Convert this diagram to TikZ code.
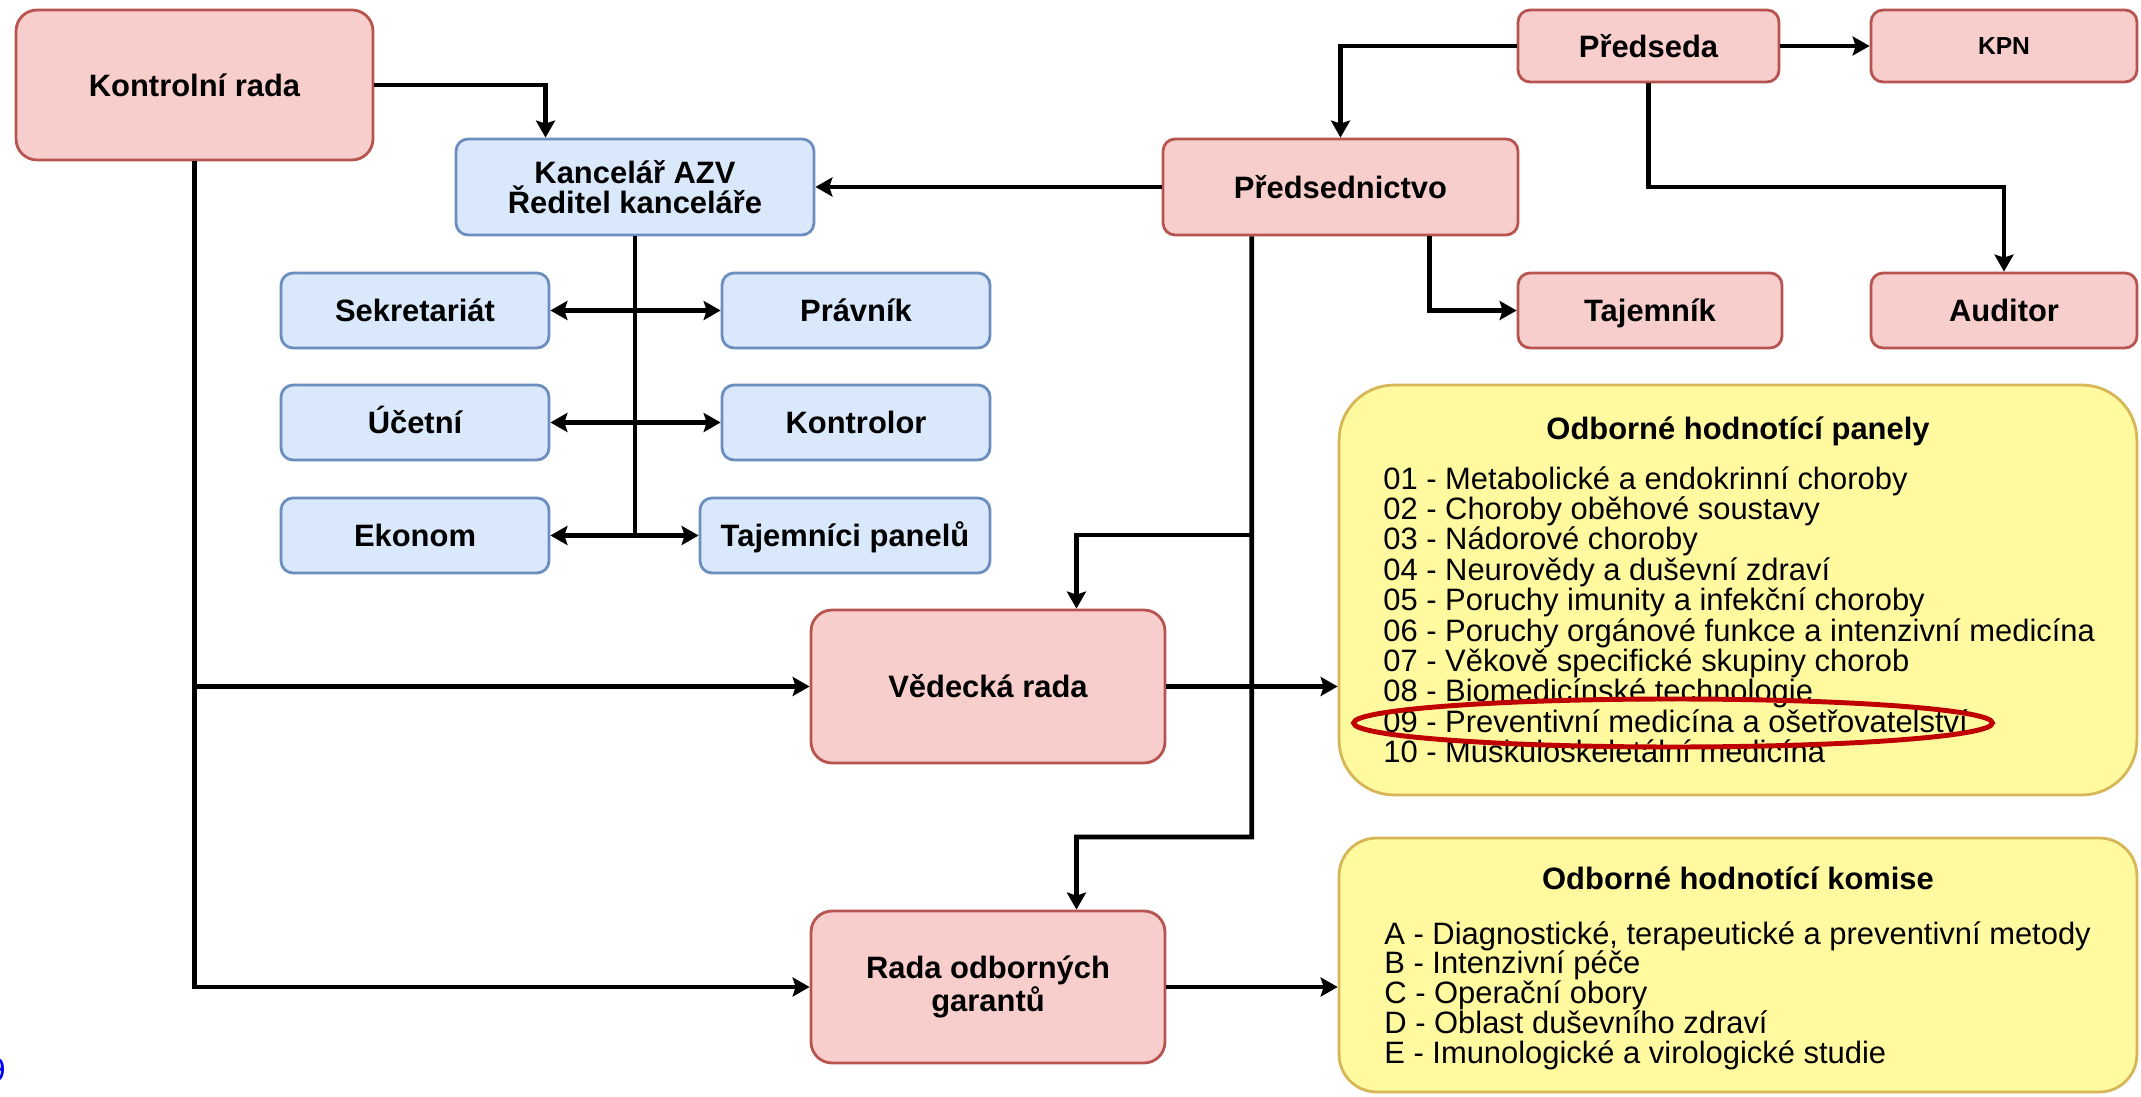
\documentclass[tikz,border=0pt]{standalone}
\usepackage{fontspec}
\setmainfont{Liberation Sans}
\usetikzlibrary{arrows.meta,shapes.geometric}

\definecolor{redfill}{HTML}{F8CECC}
\definecolor{redline}{HTML}{B85450}
\definecolor{bluefill}{HTML}{DAE8FC}
\definecolor{blueline}{HTML}{6C8EBF}
\definecolor{notefill}{HTML}{FFF9A0}
\definecolor{noteline}{HTML}{D6B656}
\definecolor{markred}{HTML}{C00000}

\tikzset{
  box/.style={draw, line width=1.6pt, rounded corners=0.24cm, align=center, inner sep=0pt,
    font=\fontsize{17.6}{17.1}\selectfont\bfseries},
  redbox/.style={box, draw=redline, fill=redfill},
  bluebox/.style={box, draw=blueline, fill=bluefill},
  oneline/.style={text height=12.6pt, text depth=0pt},
  bigbox/.style={rounded corners=0.42cm},
  notebox/.style={draw=noteline, fill=notefill, line width=1.6pt, minimum width=15.96cm, inner sep=0pt},
  item/.style={anchor=west, inner sep=0pt, text height=12.6pt, text depth=0pt,
    font=\fontsize{17.6}{17.1}\selectfont},
  heading/.style={item, anchor=center, font=\fontsize{17.6}{17.1}\selectfont\bfseries},
  conn/.style={line width=2.6pt, ->},
  twoway/.style={line width=2.6pt, <->},
}

\begin{document}
\begin{tikzpicture}[x=0.02cm, y=-0.02cm, >={Stealth[length=0.34cm,width=0.38cm,inset=0.06cm]}]
  \useasboundingbox (0,0) rectangle (2141,1097);
  \path
    (194.5,85) node[redbox, bigbox, oneline, minimum width=7.14cm, minimum height=3cm] (kontrolni) {Kontrolní rada}
    (635,187) node[bluebox, minimum width=7.16cm, minimum height=1.92cm] (kancelar) {Kancelář AZV\\Ředitel kanceláře}
    (1648.5,46) node[redbox, oneline, minimum width=5.22cm, minimum height=1.44cm] (predseda) {Předseda}
    (2004,46) node[redbox, minimum width=5.32cm, minimum height=1.44cm,
      font=\fontsize{14}{16}\selectfont\bfseries] (kpn) {KPN}
    (1340.5,187) node[redbox, oneline, minimum width=7.1cm, minimum height=1.92cm] (predsednictvo) {Předsednictvo}
    (1650,310.5) node[redbox, oneline, minimum width=5.28cm, minimum height=1.5cm] (tajemnik) {Tajemník}
    (2004,310.5) node[redbox, oneline, minimum width=5.32cm, minimum height=1.5cm] (auditor) {Auditor}
    (415,310.5) node[bluebox, oneline, minimum width=5.36cm, minimum height=1.5cm] (sekretariat) {Sekretariát}
    (856,310.5) node[bluebox, oneline, minimum width=5.36cm, minimum height=1.5cm] (pravnik) {Právník}
    (415,422.5) node[bluebox, oneline, minimum width=5.36cm, minimum height=1.5cm] (ucetni) {Účetní}
    (856,422.5) node[bluebox, oneline, minimum width=5.36cm, minimum height=1.5cm] (kontrolor) {Kontrolor}
    (415,535.5) node[bluebox, oneline, minimum width=5.36cm, minimum height=1.5cm] (ekonom) {Ekonom}
    (845,535.5) node[bluebox, oneline, minimum width=5.8cm, minimum height=1.5cm] (tajpanelu) {Tajemníci panelů}
    (988,686.5) node[redbox, bigbox, oneline, minimum width=7.08cm, minimum height=3.06cm] (vedecka) {Vědecká rada}
    (988,987) node[redbox, bigbox, minimum width=7.08cm, minimum height=3.04cm] (rada) {Rada odborných\\garantů}
    (1738,590) node[notebox, minimum height=8.2cm, rounded corners=1.1cm] (panely) {}
    (1738,965) node[notebox, minimum height=5.08cm, rounded corners=0.75cm] (komise) {};

  % panely
  \node[heading] (panelytitle) at (1738,428) {Odborné hodnotící panely};
  \node[item] (p01) at (1383,478) {01 - Metabolické a endokrinní choroby};
  \node[item] (p02) at (1383,508.4) {02 - Choroby oběhové soustavy};
  \node[item] (p03) at (1383,538.8) {03 - Nádorové choroby};
  \node[item] (p04) at (1383,569.2) {04 - Neurovědy a duševní zdraví};
  \node[item] (p05) at (1383,599.6) {05 - Poruchy imunity a infekční choroby};
  \node[item] (p06) at (1383,630) {06 - Poruchy orgánové funkce a intenzivní medicína};
  \node[item] (p07) at (1383,660.4) {07 - Věkově specifické skupiny chorob};
  \node[item] (p08) at (1383,690.8) {08 - Biomedicínské technologie};
  \node[item] (p09) at (1383,721.2) {09 - Preventivní medicína a ošetřovatelství};
  \node[item] (p10) at (1383,751.6) {10 - Muskuloskeletální medicína};
  \node[ellipse, draw=markred, line width=2.8pt, minimum width=12.78cm, minimum height=0.96cm,
    inner sep=0pt] (mark09) at (1673,723) {};

  % komise
  \node[heading] (komisetitle) at (1738,878) {Odborné hodnotící komise};
  \node[item] (kA) at (1384,933) {A - Diagnostické, terapeutické a preventivní metody};
  \node[item] (kB) at (1384,962.7) {B - Intenzivní péče};
  \node[item] (kC) at (1384,992.5) {C - Operační obory};
  \node[item] (kD) at (1384,1022.2) {D - Oblast duševního zdraví};
  \node[item] (kE) at (1384,1052) {E - Imunologické a virologické studie};

  \node[text=blue, anchor=east, inner sep=0pt, font=\fontsize{19}{19}\selectfont] (stub) at (6,1070) {9};

  \coordinate (vlow) at (1251.75,837);
  \coordinate (vmid) at (1251.75,535);

  \begin{scope}[conn]
    \draw (kontrolni.east) -| ([xshift=-1.79cm]kancelar.north);
    \draw (kontrolni.south) |- (vedecka.west);
    \draw (kontrolni.south) |- (rada.west);
    \draw (predsednictvo.west) -- (kancelar.east);
    \draw (predseda.west) -| (predsednictvo.north);
    \draw (predseda.east) -- (kpn.west);
    \draw (predseda.south) |- (predsednictvo.east -| auditor.north) -- (auditor.north);
    \draw ([xshift=1.775cm]predsednictvo.south) |- (tajemnik.west);
    \draw ([xshift=-1.775cm]predsednictvo.south) -- (vlow) -| ([xshift=1.77cm]rada.north);
    \draw (vmid) -| ([xshift=1.77cm]vedecka.north);
    \draw (vedecka.east) -- (vedecka.east -| panely.west);
    \draw (rada.east) -- (rada.east -| komise.west);
  \end{scope}
  \begin{scope}[twoway]
    \draw[-] (kancelar.south) -- (kancelar.south |- ekonom.east);
    \draw (sekretariat.east) -- (pravnik.west);
    \draw (ucetni.east) -- (kontrolor.west);
    \draw (ekonom.east) -- (tajpanelu.west);
  \end{scope}
\end{tikzpicture}
\end{document}
